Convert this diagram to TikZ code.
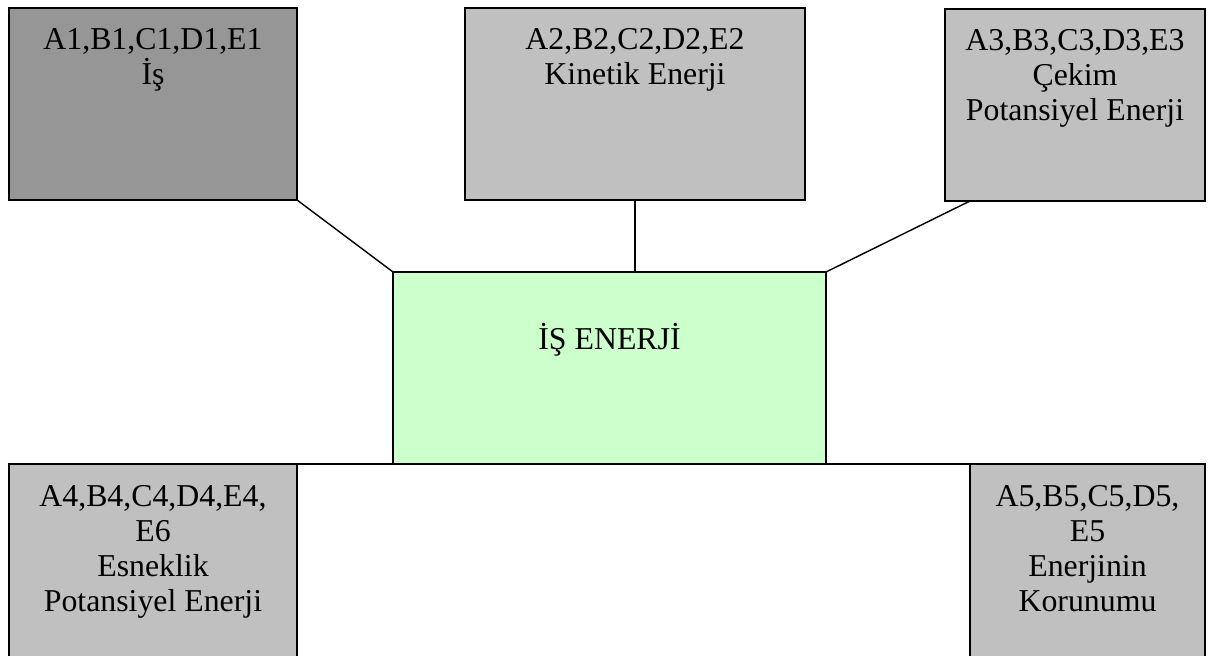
\documentclass[tikz,border=0pt]{standalone}
\usepackage{fontspec}
\setmainfont{Liberation Serif}
\usepackage{tikz}

\definecolor{isgray}{HTML}{969696}
\definecolor{boxgray}{HTML}{C0C0C0}
\definecolor{coregreen}{HTML}{CCFFCC}

\begin{document}
\begin{tikzpicture}[
    box/.style={draw,line width=0.9pt,inner sep=0pt,outer sep=0pt,minimum height=3.84cm},
    txt/.style={anchor=north,align=center,inner sep=0pt,font=\fontsize{18.1}{19.9}\selectfont},
    link/.style={line width=0.8pt}]
  \clip (0,0) rectangle (24.28,13.1);
  % top row
  \node[box,fill=isgray,minimum width=5.76cm] (is) at (3.06,11.02) {};
  \node[box,fill=boxgray,minimum width=6.8cm] (ke) at (12.7,11.02) {};
  \node[box,fill=boxgray,minimum width=5.2cm] (ce) at (21.5,11.0) {};
  % middle
  \node[box,fill=coregreen,minimum width=8.66cm] (core) at (12.19,5.74) {};
  % bottom row, cut by the page edge
  \node[box,fill=boxgray,minimum width=5.76cm,minimum height=4.2cm] (es) at (3.06,1.72) {};
  \node[box,fill=boxgray,minimum width=4.7cm,minimum height=4.2cm] (ek) at (21.75,1.72) {};

  \node[txt] (isT) at ([yshift=-0.40cm]is.north) {A1,B1,C1,D1,E1\\İş};
  \node[txt] (keT) at ([yshift=-0.40cm]ke.north) {A2,B2,C2,D2,E2\\Kinetik Enerji};
  \node[txt] (ceT) at ([yshift=-0.40cm]ce.north) {A3,B3,C3,D3,E3\\Çekim\\Potansiyel Enerji};
  \node[txt,anchor=base] (coreT) at ([yshift=-1.56cm]core.north) {İŞ ENERJİ};
  \node[txt] (esT) at ([yshift=-0.42cm]es.north) {A4,B4,C4,D4,E4,\\E6\\Esneklik\\Potansiyel Enerji};
  \node[txt] (ekT) at ([yshift=-0.42cm]ek.north) {A5,B5,C5,D5,\\E5\\Enerjinin\\Korunumu};

  \coordinate (ceFoot) at ([xshift=0.5cm]ce.south west);
  \draw[link] (is.south east) -- (core.north west);
  \draw[link] (ke.south) -- (ke.south |- core.north);
  \draw[link] (ceFoot) -- (core.north east);
  \draw[link] (es.north east) -- (ek.north west);
\end{tikzpicture}
\end{document}
